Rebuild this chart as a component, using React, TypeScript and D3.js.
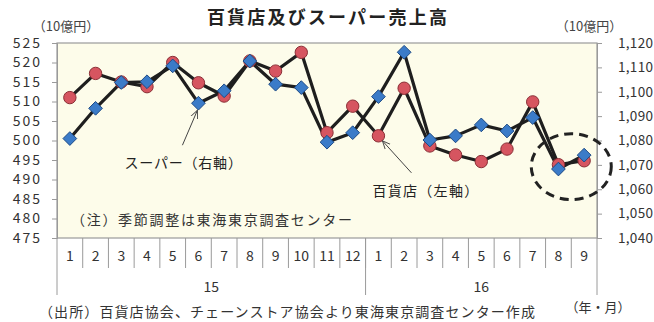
import React, { useEffect, useRef } from 'react';
import * as d3 from 'd3';

// month labels (15/1 .. 16/9)
const months = ['1', '2', '3', '4', '5', '6', '7', '8', '9', '10', '11', '12', '1', '2', '3', '4', '5', '6', '7', '8', '9'];
const years = [
  { label: '15', count: 12 },
  { label: '16', count: 9 },
];

// 百貨店 (left axis, 10億円)
const deptStore = [511, 517.2, 515, 513.8, 520, 514.8, 511.4, 520.4, 517.8, 522.6, 502, 508.8, 501.2, 513.4, 498.6, 496.3, 494.6, 497.8, 509.9, 493.8, 494.8];
// スーパー (right axis, 10億円)
const superMarket = [1080.8, 1093.2, 1103.8, 1104.1, 1110.6, 1095.3, 1100.4, 1112.6, 1103.1, 1101.7, 1079.3, 1083.2, 1098, 1116.2, 1080.2, 1081.9, 1086.4, 1083.9, 1089.4, 1068.3, 1074];

const leftTicks = d3.range(475, 526, 5);
const rightTicks = d3.range(1040, 1121, 10);

const FONT = '"Noto Sans CJK JP", "Noto Sans", sans-serif';

const App = () => {
  const svgRef = useRef<SVGSVGElement>(null);

  useEffect(() => {
    const width = 654;
    const height = 322;
    const margin = { top: 43, right: 57, bottom: 84, left: 57 };
    const plotBottom = height - margin.bottom;
    const plotRight = width - margin.right;

    const svg = d3.select(svgRef.current);
    svg.selectAll('*').remove();
    svg.attr('width', width).attr('height', height);

    const x = d3
      .scaleBand<number>()
      .domain(months.map((_, i) => i))
      .range([margin.left, plotRight]);
    const cx = (i: number) => (x(i) as number) + x.bandwidth() / 2;

    const yL = d3.scaleLinear().domain([475, 525]).range([plotBottom, margin.top]);
    const yR = d3.scaleLinear().domain([1040, 1120]).range([plotBottom, margin.top]);

    // plot background
    svg
      .append('rect')
      .attr('x', margin.left)
      .attr('y', margin.top)
      .attr('width', plotRight - margin.left)
      .attr('height', plotBottom - margin.top)
      .attr('fill', '#fdfcea')
      .attr('stroke', '#9a9a9a')
      .attr('stroke-width', 1.2);

    // title
    svg
      .append('text')
      .attr('x', 328)
      .attr('y', 24)
      .attr('text-anchor', 'middle')
      .attr('font-family', FONT)
      .attr('font-size', 18)
      .attr('font-weight', 'bold')
      .attr('letter-spacing', 2.2)
      .attr('fill', '#222')
      .text('百貨店及びスーパー売上高');

    // unit labels
    svg.append('text').attr('x', 66).attr('y', 31).attr('text-anchor', 'middle')
      .attr('font-family', FONT).attr('font-size', 13).attr('fill', '#444').text('（10億円）');
    svg.append('text').attr('x', 589).attr('y', 31).attr('text-anchor', 'middle')
      .attr('font-family', FONT).attr('font-size', 13).attr('fill', '#444').text('（10億円）');

    // left axis
    const gL = svg.append('g').attr('transform', `translate(${margin.left},0)`)
      .call(d3.axisLeft(yL).tickValues(leftTicks).tickSize(5).tickPadding(10));
    gL.select('.domain').attr('stroke', '#9a9a9a');
    gL.selectAll('line').attr('stroke', '#9a9a9a');
    gL.selectAll('text').attr('font-family', FONT).attr('font-size', 14)
      .attr('letter-spacing', 2).attr('fill', '#333');

    // right axis
    const gR = svg.append('g').attr('transform', `translate(${plotRight},0)`)
      .call(d3.axisRight(yR).tickValues(rightTicks).tickSize(5).tickPadding(16).tickFormat(d3.format(',')));
    gR.select('.domain').attr('stroke', '#9a9a9a');
    gR.selectAll('line').attr('stroke', '#9a9a9a');
    gR.selectAll('text').attr('font-family', FONT).attr('font-size', 13.5)
      .attr('letter-spacing', 0.3).attr('fill', '#333');

    // category axis: month separators, month labels
    const gx = svg.append('g');
    months.forEach((m, i) => {
      if (i > 0) {
        gx.append('line')
          .attr('x1', x(i) as number).attr('x2', x(i) as number)
          .attr('y1', plotBottom).attr('y2', plotBottom + 30)
          .attr('stroke', '#9a9a9a');
      }
      gx.append('text')
        .attr('x', cx(i)).attr('y', plotBottom + 23)
        .attr('text-anchor', 'middle')
        .attr('font-family', FONT).attr('font-size', 14).attr('fill', '#333')
        .text(m);
    });
    // year separators + labels
    let start = 0;
    const yearEdges = [0];
    years.forEach((yr) => {
      const x0 = x(start) as number;
      const x1 = start + yr.count < months.length ? (x(start + yr.count) as number) : plotRight;
      gx.append('text')
        .attr('x', (x0 + x1) / 2).attr('y', plotBottom + 54)
        .attr('text-anchor', 'middle')
        .attr('font-family', FONT).attr('font-size', 14).attr('fill', '#333')
        .text(yr.label);
      start += yr.count;
      yearEdges.push(start);
    });
    yearEdges.forEach((e) => {
      const xe = e < months.length ? (x(e) as number) : plotRight;
      gx.append('line')
        .attr('x1', xe).attr('x2', xe)
        .attr('y1', plotBottom).attr('y2', plotBottom + 57)
        .attr('stroke', '#9a9a9a');
    });

    // note inside plot
    svg.append('text').attr('x', 71).attr('y', yL(480) + 6)
      .attr('font-family', FONT).attr('font-size', 14).attr('letter-spacing', 1.7).attr('fill', '#333')
      .text('（注）季節調整は東海東京調査センター');

    // source + unit
    svg.append('text').attr('x', 39).attr('y', 317)
      .attr('font-family', FONT).attr('font-size', 14).attr('letter-spacing', 1.1).attr('fill', '#333')
      .text('（出所）百貨店協会、チェーンストア協会より東海東京調査センター作成');
    svg.append('text').attr('x', 598).attr('y', 312).attr('text-anchor', 'middle')
      .attr('font-family', FONT).attr('font-size', 13).attr('fill', '#333')
      .text('（年・月）');

    // lines
    const lineL = d3.line<number>().x((_, i) => cx(i)).y((d) => yL(d));
    const lineR = d3.line<number>().x((_, i) => cx(i)).y((d) => yR(d));

    svg.append('path').datum(deptStore)
      .attr('fill', 'none').attr('stroke', '#1e1e1e').attr('stroke-width', 3.2)
      .attr('stroke-linejoin', 'round').attr('d', lineL);
    svg.append('path').datum(superMarket)
      .attr('fill', 'none').attr('stroke', '#1e1e1e').attr('stroke-width', 3.2)
      .attr('stroke-linejoin', 'round').attr('d', lineR);

    // markers
    svg.selectAll('.dot').data(deptStore).enter().append('circle')
      .attr('class', 'dot')
      .attr('cx', (_, i) => cx(i)).attr('cy', (d) => yL(d))
      .attr('r', 6.2)
      .attr('fill', '#d65560').attr('stroke', '#8a2f36').attr('stroke-width', 1);

    const diamond = d3.symbol().type(d3.symbolDiamond2).size(120);
    svg.selectAll('.dia').data(superMarket).enter().append('path')
      .attr('class', 'dia')
      .attr('transform', (d, i) => `translate(${cx(i)},${yR(d)})`)
      .attr('d', diamond)
      .attr('fill', '#3b7bc8').attr('stroke', '#1d4a85').attr('stroke-width', 1);

    // annotation arrows
    svg.append('defs').append('marker')
      .attr('id', 'arr').attr('viewBox', '0 0 10 10')
      .attr('refX', 9).attr('refY', 5)
      .attr('markerWidth', 9).attr('markerHeight', 9)
      .attr('orient', 'auto')
      .append('path').attr('d', 'M0,1 L9,5 L0,9').attr('fill', 'none').attr('stroke', '#444').attr('stroke-width', 1);

    const sx = cx(5);
    const sy = yR(superMarket[5]);
    svg.append('line')
      .attr('x1', sx - 16).attr('y1', sy + 42)
      .attr('x2', sx - 1).attr('y2', sy + 7)
      .attr('stroke', '#444').attr('stroke-width', 1).attr('marker-end', 'url(#arr)');
    svg.append('text').attr('x', sx - 74).attr('y', sy + 65)
      .attr('font-family', FONT).attr('font-size', 14).attr('letter-spacing', 0.8).attr('fill', '#222')
      .text('スーパー（右軸）');

    const dx = cx(12);
    const dy = yL(deptStore[12]);
    svg.append('line')
      .attr('x1', dx + 33).attr('y1', dy + 37)
      .attr('x2', dx + 4).attr('y2', dy + 5)
      .attr('stroke', '#444').attr('stroke-width', 1).attr('marker-end', 'url(#arr)');
    svg.append('text').attr('x', dx - 6).attr('y', dy + 60)
      .attr('font-family', FONT).attr('font-size', 14).attr('letter-spacing', 1.3).attr('fill', '#222')
      .text('百貨店（左軸）');

    // dashed highlight around the last two months
    const ex = (cx(19) + cx(20)) / 2;
    svg.append('ellipse')
      .attr('cx', ex).attr('cy', yL(493.3))
      .attr('rx', 40).attr('ry', 33)
      .attr('fill', 'none').attr('stroke', '#222').attr('stroke-width', 3)
      .attr('stroke-dasharray', '9,6');
  }, []);

  return (
    <div style={{ position: 'absolute', left: 0, top: 0, background: '#fff' }}>
      <svg ref={svgRef} style={{ display: 'block' }}></svg>
    </div>
  );
};

export default App;
